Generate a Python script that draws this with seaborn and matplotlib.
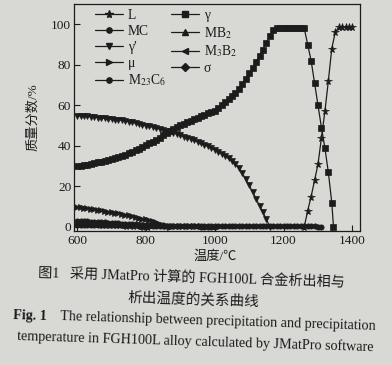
import numpy as np
import pandas as pd
import seaborn as sns
import matplotlib.pyplot as plt
from matplotlib.lines import Line2D

# temperature (degC) and phase fraction (mass %)
gamma_T = list(range(600, 1350, 10)) + [1345]
gamma = [30.0, 30.2, 30.5, 30.8, 31.1, 31.4, 31.8, 32.2, 32.6, 33.0,
         33.5, 34.0, 34.5, 35.1, 35.7, 36.4, 37.1, 37.9, 38.7, 39.5,
         40.3, 41.2, 42.1, 43.1, 44.1, 45.2, 46.3, 47.4, 48.4, 49.3,
         50.1, 50.9, 51.7, 52.5, 53.2, 53.9, 54.6, 55.3, 56.0, 56.6,
         57.2, 58.5, 60.0, 61.5, 63.0, 64.5, 66.3, 68.2, 70.5, 73.0,
         75.8, 78.5, 81.5, 84.5, 87.5, 91.0, 94.0, 97.0, 98.0, 98.0,
         98.0, 98.0, 98.0, 98.0, 98.0, 98.0, 98.0, 90.0, 82.0, 71.0,
         60.0, 49.0, 39.0, 27.0, 12.0, 0.0]

gp_T = list(range(600, 1170, 10))
gamma_p = [54.8, 54.7, 54.6, 54.5, 54.4, 54.2, 54.0, 53.8, 53.6, 53.4,
           53.2, 53.0, 52.8, 52.6, 52.3, 52.0, 51.6, 51.2, 50.8, 50.4,
           50.0, 49.6, 49.2, 48.8, 48.4, 48.0, 47.5, 47.0, 46.4, 45.8,
           45.2, 44.6, 44.0, 43.4, 42.7, 42.0, 41.3, 40.5, 39.7, 38.9,
           38.0, 37.0, 36.0, 35.0, 33.8, 32.5, 31.0, 29.0, 26.5, 23.5,
           20.5, 17.3, 14.0, 10.5, 7.2, 3.8, 0.0]

L_T = list(range(1260, 1410, 10))
liquid = [0.0, 8.0, 15.0, 23.0, 31.0, 44.0, 57.0, 72.0, 88.0, 96.0,
          98.5, 98.5, 98.5, 98.5, 98.5]

mu_T = list(range(600, 880, 10))
mu = [10.0, 9.8, 9.5, 9.3, 9.0, 8.8, 8.5, 8.2, 7.9, 7.6,
      7.3, 7.0, 6.7, 6.4, 6.0, 5.7, 5.3, 4.9, 4.5, 4.1,
      3.7, 3.2, 2.7, 2.2, 1.7, 1.1, 0.5, 0.0]

m23_T = list(range(600, 1010, 10))
m23c6 = [3.0, 2.9, 2.8, 2.7, 2.6, 2.5, 2.4, 2.3, 2.2, 2.1,
         2.0, 1.9, 1.8, 1.7, 1.6, 1.5, 1.4, 1.3, 1.2, 1.1,
         1.0, 0.95, 0.9, 0.85, 0.8, 0.75, 0.7, 0.65, 0.6, 0.55,
         0.5, 0.45, 0.4, 0.35, 0.3, 0.25, 0.2, 0.15, 0.1, 0.05, 0.0]

m3b2_T = list(range(600, 810, 10))
m3b2 = [1.6, 1.5, 1.5, 1.4, 1.4, 1.3, 1.2, 1.2, 1.1, 1.0,
        1.0, 0.9, 0.8, 0.7, 0.6, 0.5, 0.4, 0.3, 0.2, 0.1, 0.0]

mc_T = list(range(600, 1320, 10))
mc = [0.8, 0.8, 0.8, 0.8, 0.8, 0.8, 0.8, 0.8, 0.8, 0.8,
      0.8, 0.8, 0.8, 0.8, 0.8, 0.8, 0.8, 0.8, 0.8, 0.8,
      0.7, 0.7, 0.7, 0.7, 0.7, 0.7, 0.7, 0.7, 0.7, 0.7,
      0.7, 0.7, 0.7, 0.7, 0.7, 0.7, 0.7, 0.7, 0.7, 0.7,
      0.6, 0.6, 0.6, 0.6, 0.6, 0.6, 0.6, 0.6, 0.6, 0.6,
      0.6, 0.6, 0.6, 0.6, 0.6, 0.6, 0.6, 0.6, 0.6, 0.6,
      0.6, 0.6, 0.6, 0.6, 0.6, 0.6, 0.5, 0.5, 0.5, 0.4,
      0.2, 0.0]

phases = {'L': (L_T, liquid), 'MC': (mc_T, mc), "γ′": (gp_T, gamma_p),
          'μ': (mu_T, mu), 'M$_{23}$C$_6$': (m23_T, m23c6),
          'γ': (gamma_T, gamma), 'M$_3$B$_2$': (m3b2_T, m3b2)}
markers = {'L': '*', 'MC': 'o', "γ′": 'v', 'μ': '>', 'M$_{23}$C$_6$': 'o',
           'γ': 's', 'MB$_2$': '^', 'M$_3$B$_2$': '<', 'σ': 'D'}
legend_order = ['L', 'MC', "γ′", 'μ', 'M$_{23}$C$_6$', 'γ', 'MB$_2$', 'M$_3$B$_2$', 'σ']

df = pd.concat([pd.DataFrame({'T': t, 'pct': v, 'phase': k}) for k, (t, v) in phases.items()])

bg = '#d8d8d5'
ink = '#1c1c1c'
sns.set_theme(style='ticks')
plt.rcParams['font.family'] = ['Liberation Serif', 'Noto Sans CJK SC', 'DejaVu Sans']
plt.rcParams['mathtext.fontset'] = 'stix'
plt.rcParams['text.color'] = ink

fig = plt.figure(figsize=(3.92, 3.65), dpi=100, facecolor=bg)
ax = fig.add_axes([74 / 392, 1 - 231 / 365, 286 / 392, 227 / 365], facecolor=bg)

sns.lineplot(data=df, x='T', y='pct', hue='phase', style='phase',
             palette={k: ink for k in phases}, markers={k: markers[k] for k in phases},
             dashes=False, sort=False, estimator=None, legend=False,
             linewidth=0.9, markersize=3.8, markeredgecolor=ink, markeredgewidth=0.5, ax=ax)
for line in ax.lines:
    if line.get_marker() == '*':
        line.set_markersize(5.8)

ax.set_xlim(591, 1422)
ax.set_ylim(-2, 110)
ax.set_xticks([600, 800, 1000, 1200, 1400])
ax.set_yticks([0, 20, 40, 60, 80, 100])
ax.tick_params(direction='in', length=4, width=0.8, colors=ink, labelsize=9.6, pad=2)
ax.tick_params(axis='x', pad=3)
ax.set_xlabel('')
ax.set_ylabel('')
for s in ax.spines.values():
    s.set_color(ink)
    s.set_linewidth(0.9)

handles = [Line2D([], [], color=ink, lw=0.9, marker=markers[k], markersize=5.8 if k == 'L' else 3.8,
                  markeredgecolor=ink) for k in legend_order]
ax.legend(handles, legend_order, ncol=2, loc='upper left', bbox_to_anchor=(0.073, 0.978),
          frameon=False, fontsize=9.8, handlelength=2.05, handletextpad=0.37,
          columnspacing=0.35, labelspacing=0.21, borderpad=0, borderaxespad=0)

fig.text(215 / 392, 1 - 257 / 365, '温度/℃', fontsize=9.5, ha='center', va='center')
fig.text(33 / 392, 1 - 117 / 365, '质量分数/%', fontsize=9.5, ha='center', va='center', rotation=90)

rot = -1.8
fig.text(38 / 392, 1 - 277 / 365, '图1   采用 JMatPro 计算的 FGH100L 合金析出相与', fontsize=10.2,
         ha='left', va='baseline', rotation=rot, rotation_mode='anchor')
fig.text(128 / 392, 1 - 302 / 365, '析出温度的关系曲线', fontsize=10.5,
         ha='left', va='baseline', rotation=rot, rotation_mode='anchor')
fig.text(13 / 392, 1 - 319 / 365, 'Fig. 1', fontsize=10.2, fontweight='bold',
         ha='left', va='baseline', rotation=rot, rotation_mode='anchor')
fig.text(60 / 392, 1 - 320.5 / 365, 'The relationship between precipitation and precipitation', fontsize=10.2,
         ha='left', va='baseline', rotation=rot, rotation_mode='anchor')
fig.text(17 / 392, 1 - 340 / 365, 'temperature in FGH100L alloy calculated by JMatPro software', fontsize=10.2,
         ha='left', va='baseline', rotation=rot, rotation_mode='anchor')

fig.savefig('out.png', dpi=100, facecolor=bg)
